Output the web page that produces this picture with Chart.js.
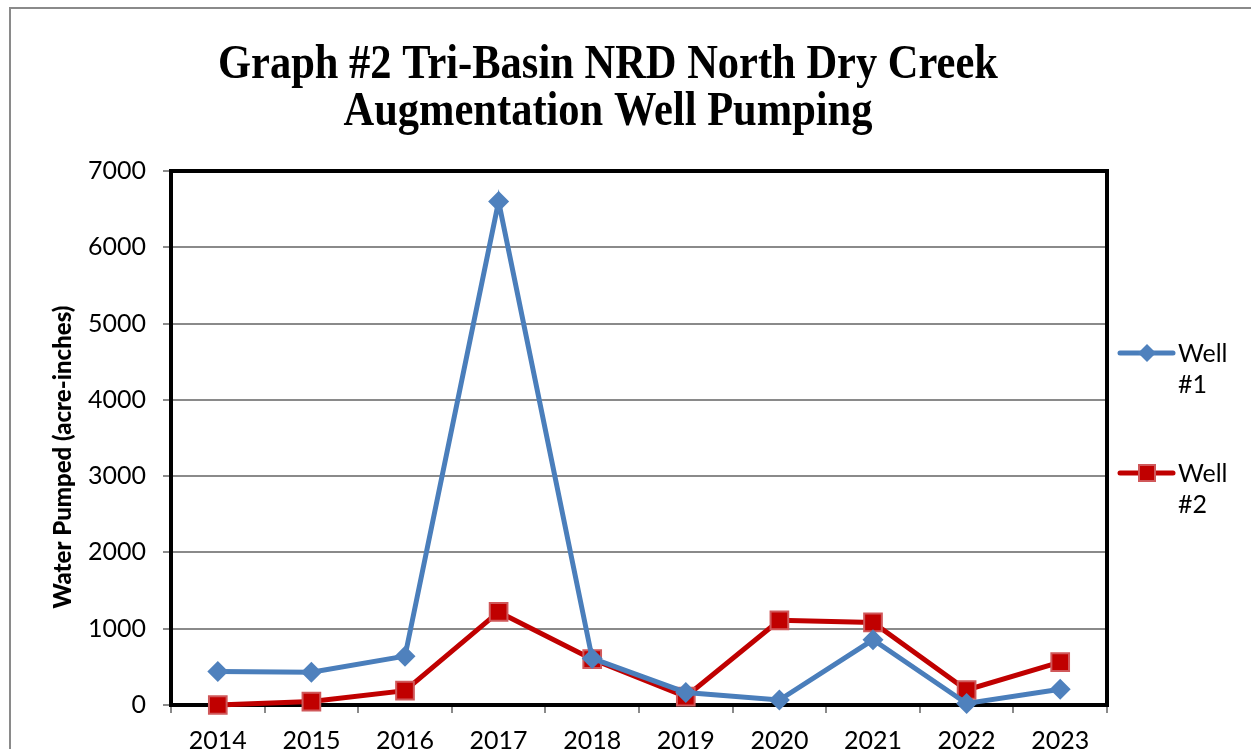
<!DOCTYPE html>
<html>
<head>
<meta charset="utf-8">
<script src="https://cdn.jsdelivr.net/npm/chart.js@4"></script>
<style>
  html, body { margin: 0; padding: 0; background: #fff; }
  #wrap { width: 1251px; height: 749px; position: relative; }
</style>
</head>
<body>
<div id="wrap"><canvas id="c" width="1251" height="749"></canvas></div>
<script>
const years = ['2014','2015','2016','2017','2018','2019','2020','2021','2022','2023'];
const well1 = [440, 430, 640, 6600, 610, 165, 65, 855, 20, 207];
const well2 = [0, 45, 188, 1220, 601, 110, 1110, 1083, 197, 562];
const yTicks = [0, 1000, 2000, 3000, 4000, 5000, 6000, 7000];
const titleLines = ['Graph #2 Tri-Basin NRD North Dry Creek', 'Augmentation Well Pumping'];
const yTitle = 'Water Pumped (acre-inches)';
const seriesNames = [['Well', '#1'], ['Well', '#2']];

const BLUE = '#4A7EBB', BLUE_M = '#4F81BD', RED = '#C00000', RED_B = '#D0585A';

const decor = {
  id: 'decor',
  beforeDraw(chart) {
    const ctx = chart.ctx;
    ctx.save();
    ctx.fillStyle = '#fff';
    ctx.fillRect(0, 0, chart.width, chart.height);
    // outer frame
    ctx.strokeStyle = '#8a8a8a';
    ctx.lineWidth = 2;
    ctx.beginPath();
    ctx.moveTo(10, 749); ctx.lineTo(10, 8); ctx.lineTo(1251, 8);
    ctx.stroke();
    // title
    ctx.fillStyle = '#000';
    ctx.textAlign = 'center';
    ctx.textBaseline = 'alphabetic';
    ctx.font = 'bold 42.5px "Liberation Serif"';
    const bases = [78, 125];
    titleLines.forEach((t, i) => {
      ctx.save();
      ctx.translate(608, bases[i]);
      ctx.scale(1, 1.14);
      ctx.fillText(t, 0, 0);
      ctx.restore();
    });
    // y title
    ctx.save();
    ctx.translate(71, 457);
    ctx.rotate(-Math.PI / 2);
    ctx.font = '900 24px Lato';
    ctx.textAlign = 'center';
    ctx.textBaseline = 'alphabetic';
    ctx.fillText(yTitle, 0, 0);
    ctx.restore();
    ctx.restore();
  },
  beforeDatasetsDraw(chart) {
    const ctx = chart.ctx, a = chart.chartArea;
    ctx.save();
    ctx.strokeStyle = '#000';
    ctx.lineWidth = 4;
    ctx.strokeRect(a.left, a.top, a.right - a.left, a.bottom - a.top);
    ctx.restore();
  },
  afterDraw(chart) {
    const ctx = chart.ctx;
    ctx.save();
    const ys = [353, 473];
    chart.data.datasets.forEach((ds, i) => {
      const y = ys[i];
      ctx.strokeStyle = ds.borderColor;
      ctx.lineWidth = 5;
      ctx.lineCap = 'round';
      ctx.beginPath(); ctx.moveTo(1120, y); ctx.lineTo(1173, y); ctx.stroke();
      ctx.fillStyle = ds.pointBackgroundColor;
      ctx.strokeStyle = ds.pointBorderColor;
      ctx.lineWidth = ds.pointBorderWidth;
      ctx.beginPath();
      if (ds.pointStyle === 'rect') {
        const s = 16;
        ctx.rect(1147 - s/2, y - s/2, s, s);
      } else {
        ctx.moveTo(1147, y - 9); ctx.lineTo(1156, y); ctx.lineTo(1147, y + 9); ctx.lineTo(1138, y); ctx.closePath();
      }
      ctx.fill();
      if (ds.pointBorderWidth) ctx.stroke();
      ctx.fillStyle = '#000';
      ctx.font = '25px Lato';
      ctx.textAlign = 'left';
      ctx.textBaseline = 'alphabetic';
      ctx.fillText(seriesNames[i][0], 1178, y + 9);
      ctx.fillText(seriesNames[i][1], 1178, y + 40);
    });
    ctx.restore();
  }
};

new Chart(document.getElementById('c'), {
  type: 'line',
  data: {
    labels: years,
    datasets: [
      {
        label: 'Well #1', data: well1,
        borderColor: BLUE, borderWidth: 5,
        pointStyle: 'rectRot', pointRadius: 10.5, pointHoverRadius: 10.5,
        pointBackgroundColor: BLUE_M, pointBorderColor: BLUE_M, pointBorderWidth: 0,
        tension: 0, clip: false
      },
      {
        label: 'Well #2', data: well2,
        borderColor: RED, borderWidth: 5,
        pointStyle: 'rect', pointRadius: 12.5, pointHoverRadius: 12.5,
        pointBackgroundColor: RED, pointBorderColor: RED_B, pointBorderWidth: 2,
        tension: 0, clip: false
      }
    ]
  },
  options: {
    responsive: false,
    animation: false,
    devicePixelRatio: 1,
    layout: { padding: { left: 0, top: 171, right: 144, bottom: 0 } },
    plugins: { legend: { display: false }, title: { display: false }, tooltip: { enabled: false } },
    scales: {
      x: {
        type: 'category',
        offset: true,
        grid: { offset: true, drawOnChartArea: false, drawTicks: true, tickLength: 8, color: '#8a8a8a', lineWidth: 2 },
        border: { display: true, color: '#555', width: 2 },
        ticks: { color: '#000', font: { family: 'Lato', size: 25 }, padding: 13, maxRotation: 0, autoSkip: false },
        afterFit(s) { s.height = 44; }
      },
      y: {
        min: 0, max: 7000,
        afterBuildTicks(s) { s.ticks = yTicks.map(v => ({ value: v })); },
        grid: { color: '#8a8a8a', lineWidth: 2, tickLength: 8, drawTicks: true },
        border: { display: true, color: '#555', width: 2 },
        ticks: { color: '#000', font: { family: 'Lato', size: 25 }, padding: 17, callback: v => String(v) },
        afterFit(s) { s.width = 171; }
      }
    }
  },
  plugins: [decor]
});
</script>
</body>
</html>
